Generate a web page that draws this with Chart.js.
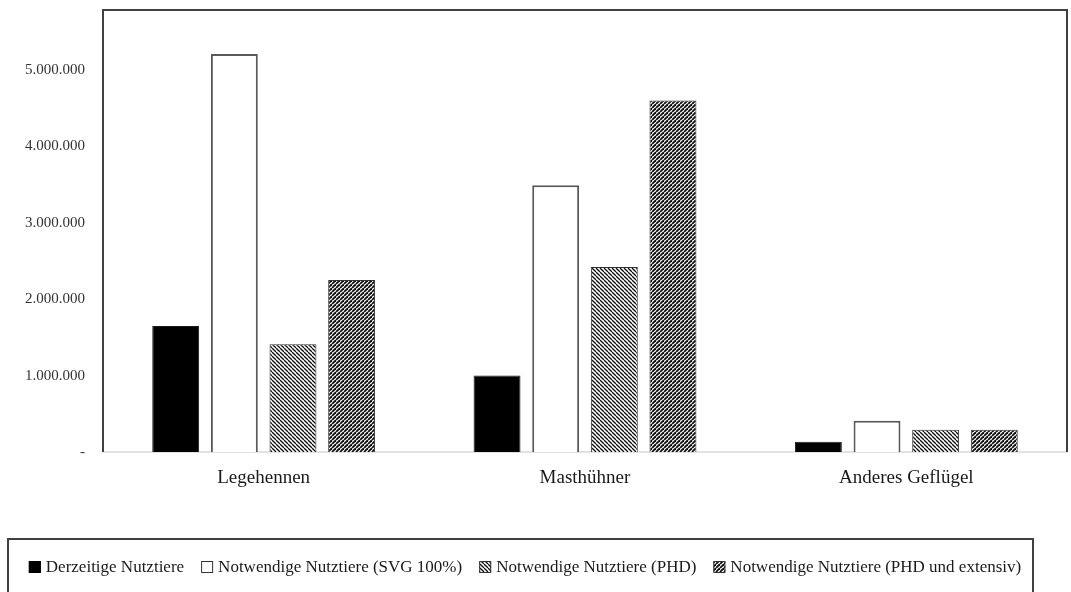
<!DOCTYPE html>
<html>
<head>
<meta charset="utf-8">
<script src="https://cdn.jsdelivr.net/npm/chart.js@4.4.1/dist/chart.umd.min.js"></script>
<style>
  html, body { margin: 0; padding: 0; background: #fff; }
  #wrap { width: 1071px; height: 592px; position: relative; }
</style>
</head>
<body>
<div id="wrap"><canvas id="chart"></canvas></div>
<script>
// Geflügelbestand: derzeitige und notwendige Nutztiere je Kategorie
const categories = ['Legehennen', 'Masthühner', 'Anderes Geflügel'];
const seriesNames = [
  'Derzeitige Nutztiere',
  'Notwendige Nutztiere (SVG 100%)',
  'Notwendige Nutztiere (PHD)',
  'Notwendige Nutztiere (PHD und extensiv)'
];
const derzeitig = [1650000, 1000000, 135000];
const svg100 = [5210000, 3490000, 410000];
const phd = [1410000, 2420000, 290000];
const phdExtensiv = [2250000, 4600000, 290000];
const yTicks = [0, 1000000, 2000000, 3000000, 4000000, 5000000];

const FONT = "'Liberation Serif', 'DejaVu Serif', serif";

// Fine diagonal hatch tiles used as bar fills
function hatch(dir, lineWidth, size) {
  const c = document.createElement('canvas');
  c.width = size; c.height = size;
  const g = c.getContext('2d');
  g.fillStyle = '#ffffff';
  g.fillRect(0, 0, size, size);
  g.strokeStyle = '#111111';
  g.lineWidth = lineWidth;
  for (const o of [-size, 0, size]) {
    g.beginPath();
    if (dir === 'down') { g.moveTo(o, 0); g.lineTo(o + size, size); }
    else { g.moveTo(o, size); g.lineTo(o + size, 0); }
    g.stroke();
  }
  return g.createPattern(c, 'repeat');
}
const hatchDown = hatch('down', 1.3, 4);
const hatchUp = hatch('up', 1.9, 4);

const fills = ['#000000', '#ffffff', hatchDown, hatchUp];
const borders = ['#1a1a1a', '#595959', '#333333', '#333333'];
const borderWidths = [1, 2, 1, 1];
const values = [derzeitig, svg100, phd, phdExtensiv];

function fmt(v) {
  if (v === 0) return '-';
  return String(Math.round(v)).replace(/\B(?=(\d{3})+(?!\d))/g, '.');
}

// Frame around the plot and light baseline
const framePlugin = {
  id: 'frame',
  beforeDatasetsDraw(chart) {
    const { ctx, chartArea: a } = chart;
    ctx.save();
    ctx.strokeStyle = '#d9d9d9';
    ctx.lineWidth = 1.5;
    ctx.beginPath();
    ctx.moveTo(a.left, a.bottom);
    ctx.lineTo(a.right, a.bottom);
    ctx.stroke();
    ctx.restore();
  },
  afterDraw(chart) {
    const { ctx, chartArea: a } = chart;
    ctx.save();
    ctx.strokeStyle = '#404040';
    ctx.lineWidth = 2;
    ctx.beginPath();
    ctx.moveTo(a.left, a.bottom);
    ctx.lineTo(a.left, a.top);
    ctx.lineTo(a.right, a.top);
    ctx.lineTo(a.right, a.bottom);
    ctx.stroke();
    ctx.restore();
  }
};

// Boxed legend below the chart
const boxLegend = {
  id: 'boxLegend',
  afterDraw(chart) {
    const ctx = chart.ctx;
    const boxL = 8, boxR = 1033, boxT = 539, boxB = 600;
    const midY = 567;
    ctx.save();
    ctx.strokeStyle = '#404040';
    ctx.lineWidth = 2;
    ctx.strokeRect(boxL, boxT, boxR - boxL, boxB - boxT);

    ctx.font = "17px " + FONT;
    ctx.textBaseline = 'middle';
    const sq = 12, gapBox = 5, gapItem = 17;
    const widths = seriesNames.map(n => ctx.measureText(n).width);
    const total = widths.reduce((s, w) => s + sq + gapBox + w, 0) + gapItem * (seriesNames.length - 1);
    let x = 525 - total / 2;
    chart.data.datasets.forEach((ds, i) => {
      ctx.fillStyle = fills[i];
      ctx.fillRect(x, midY - sq / 2, sq, sq);
      ctx.strokeStyle = i === 0 ? '#000' : '#333';
      ctx.lineWidth = 1;
      ctx.strokeRect(x + 0.5, midY - sq / 2 + 0.5, sq - 1, sq - 1);
      ctx.fillStyle = '#1a1a1a';
      ctx.fillText(seriesNames[i], x + sq + gapBox, midY + 1);
      x += sq + gapBox + widths[i] + gapItem;
    });
    ctx.restore();
  }
};

new Chart(document.getElementById('chart'), {
  type: 'bar',
  data: {
    labels: categories,
    datasets: seriesNames.map((name, i) => ({
      label: name,
      data: values[i],
      backgroundColor: fills[i],
      borderColor: borders[i],
      borderWidth: borderWidths[i],
      categoryPercentage: 0.73,
      barPercentage: 0.8
    }))
  },
  options: {
    responsive: true,
    maintainAspectRatio: false,
    animation: false,
    layout: { padding: { top: 10, right: 4, left: 0, bottom: 0 } },
    plugins: {
      legend: { display: false },
      tooltip: { enabled: false }
    },
    scales: {
      x: {
        grid: { display: false, drawTicks: false },
        border: { display: false },
        ticks: {
          font: { family: FONT, size: 19 },
          color: '#1a1a1a',
          padding: 15
        },
        afterFit(scale) {
          scale.height = 140;
          scale.paddingLeft = 0;
          scale.paddingRight = 0;
        }
      },
      y: {
        min: 0,
        max: 5785000,
        grid: { display: false, drawTicks: false },
        border: { display: false },
        afterBuildTicks(scale) {
          scale.ticks = yTicks.map(v => ({ value: v }));
        },
        ticks: {
          font: { family: FONT, size: 15 },
          color: '#333333',
          padding: 18,
          callback: v => fmt(v)
        },
        afterFit(scale) {
          scale.width = 103;
          scale.paddingTop = 0;
          scale.paddingBottom = 0;
        }
      }
    }
  },
  plugins: [framePlugin, boxLegend]
});
</script>
</body>
</html>
